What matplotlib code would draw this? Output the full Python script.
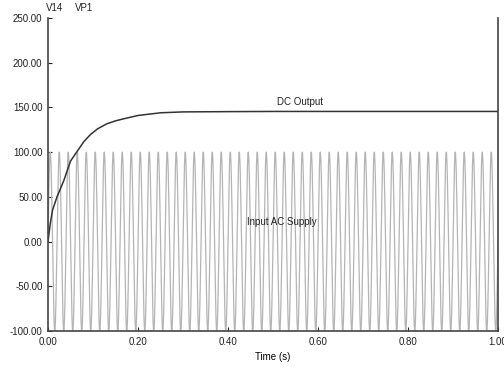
import numpy as np
import matplotlib
matplotlib.use("Agg")
import matplotlib.pyplot as plt
from matplotlib.ticker import FormatStrFormatter

# --- data ---
ac_amplitude = 100.0      # peak of input AC supply
ac_frequency = 50.0       # Hz (50 cycles across 1 s)
dc_time = [0.0, 0.005, 0.01, 0.02, 0.035, 0.05, 0.065, 0.08, 0.095, 0.11, 0.13,
           0.15, 0.17, 0.20, 0.25, 0.30, 0.40, 0.50, 0.60, 0.80, 1.00]
dc_value = [0.0, 20.0, 35.0, 50.0, 68.0, 90.0, 101.0, 112.0, 120.0, 126.0, 131.5,
            135.0, 137.5, 141.0, 144.0, 145.0, 145.3, 145.5, 145.5, 145.5, 145.5]
x_ticks = [0.0, 0.2, 0.4, 0.6, 0.8, 1.0]
y_ticks = [-100, -50, 0, 50, 100, 150, 200, 250]

plt.rcParams['font.family'] = ['Liberation Sans', 'DejaVu Sans']

fig = plt.figure(figsize=(5.04, 3.67), dpi=100)
ax = fig.add_axes([48/504, 1-331/367, 450/504, 313/367])

t = np.linspace(0, 1, 20001)
ax.plot(t, ac_amplitude * np.sin(2*np.pi*ac_frequency*t), color='#b4b4b4', lw=0.9)
ax.plot(dc_time, dc_value, color='#333333', lw=1.1)

ax.set_xlim(0, 1)
ax.set_ylim(-100, 250)
ax.set_xticks(x_ticks)
ax.set_yticks(y_ticks)
ax.xaxis.set_major_formatter(FormatStrFormatter('%.2f'))
ax.yaxis.set_major_formatter(FormatStrFormatter('%.2f'))
ax.tick_params(direction='in', length=3, width=0.8, labelsize=7, colors='#222222', pad=4)
for s in ax.spines.values():
    s.set_color('#444444')
    s.set_linewidth(1.2)
ax.spines['top'].set_visible(False)
ax.set_xlabel('Time (s)', fontsize=7, labelpad=4)

ax.text(300/504, 1-102/367, 'DC Output', transform=fig.transFigure, fontsize=7,
        ha='center', va='center', color='#222222')
ax.text(282/504, 1-222/367, 'Input AC Supply', transform=fig.transFigure, fontsize=7,
        ha='center', va='center', color='#222222')
fig.text(55/504, 1-8/367, 'V14', fontsize=7, ha='center', va='center', color='#222222')
fig.text(84/504, 1-8/367, 'VP1', fontsize=7, ha='center', va='center', color='#222222')

fig.savefig('out.png', dpi=100)
